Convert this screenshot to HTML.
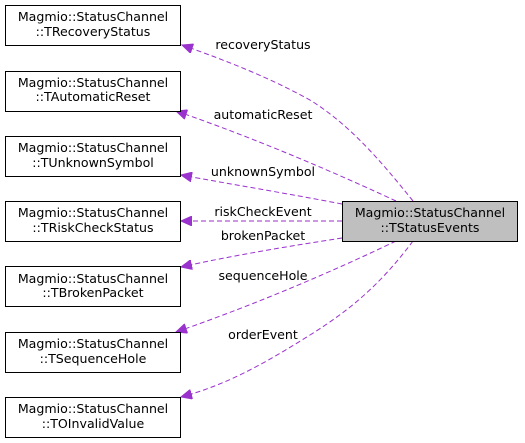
<!DOCTYPE html>
<html><head><meta charset="utf-8"><style>
html,body{margin:0;padding:0;background:#fff;}
svg{display:block;}
text{font-family:"DejaVu Sans","Liberation Sans",sans-serif;font-size:12.6px;fill:#000;}
</style></head><body>
<svg width="525" height="443" viewBox="0 0 525 443" xmlns="http://www.w3.org/2000/svg">
<defs>
<marker id="a" markerWidth="12" markerHeight="10" refX="11" refY="5" orient="auto" markerUnits="userSpaceOnUse">
<path d="M0,0 L11,5 L0,10 Z" fill="#9a32cd" stroke="#9a32cd"/>
</marker>
</defs>
<g fill="none" stroke="#9a32cd" stroke-width="1" stroke-dasharray="5,3">
<path d="M413,201 C380,160 350,125 310,100 C270,78 230,62 182,45" marker-end="url(#a)"/>
<path d="M396,201 C340,175 260,140 176,111" marker-end="url(#a)"/>
<path d="M342,204 C290,194 230,184 181,175" marker-end="url(#a)"/>
<path d="M342,221 L181,221" marker-end="url(#a)"/>
<path d="M342,238 C290,246 230,256 181,267" marker-end="url(#a)"/>
<path d="M396,241 C340,268 260,303 176,332" marker-end="url(#a)"/>
<path d="M413,241 C380,285 350,310 310,335 C270,360 230,384 181,397" marker-end="url(#a)"/>
</g>
<g fill="#fff" stroke="#000" stroke-width="1">
<rect x="5.5" y="5.5" width="175" height="40"/>
<rect x="5.5" y="71.5" width="175" height="40"/>
<rect x="5.5" y="136.5" width="175" height="40"/>
<rect x="5.5" y="201.5" width="175" height="40"/>
<rect x="5.5" y="266.5" width="175" height="40"/>
<rect x="5.5" y="332.5" width="175" height="40"/>
<rect x="5.5" y="397.5" width="175" height="40"/>
<rect x="342.5" y="201.5" width="175" height="40" fill="#bfbfbf"/>
</g>
<g text-anchor="middle">
<text x="93" y="21">Magmio::StatusChannel</text><text x="93" y="36">::TRecoveryStatus</text>
<text x="93" y="87">Magmio::StatusChannel</text><text x="93" y="101">::TAutomaticReset</text>
<text x="93" y="152">Magmio::StatusChannel</text><text x="93" y="167">::TUnknownSymbol</text>
<text x="93" y="217">Magmio::StatusChannel</text><text x="93" y="232">::TRiskCheckStatus</text>
<text x="93" y="283">Magmio::StatusChannel</text><text x="93" y="297">::TBrokenPacket</text>
<text x="93" y="348">Magmio::StatusChannel</text><text x="93" y="363">::TSequenceHole</text>
<text x="93" y="413">Magmio::StatusChannel</text><text x="93" y="428">::TOInvalidValue</text>
<text x="430" y="217">Magmio::StatusChannel</text><text x="430" y="232">::TStatusEvents</text>
<text x="263" y="49">recoveryStatus</text>
<text x="263" y="119">automaticReset</text>
<text x="263" y="176">unknownSymbol</text>
<text x="263" y="216">riskCheckEvent</text>
<text x="263" y="240">brokenPacket</text>
<text x="263" y="280">sequenceHole</text>
<text x="263" y="339">orderEvent</text>
</g>
</svg>
</body></html>
